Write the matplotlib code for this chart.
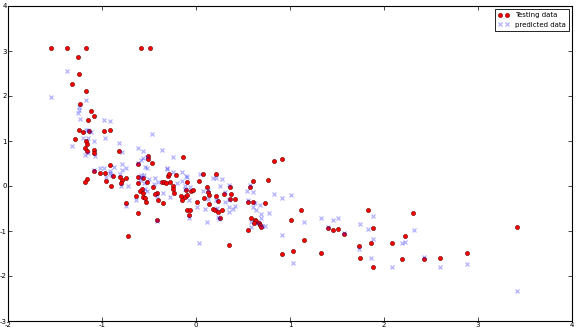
import matplotlib
matplotlib.use("Agg")
from matplotlib import pyplot as plt

plt.rcParams['axes.unicode_minus'] = False

# testing data (red dots)
test_x = [-1.54, -1.37, -1.17, -0.59, -0.49, -1.26, -1.24, -1.32, -1.17, -1.23,
          -1.12, -1.08, -1.15, -1.25, -1.20, -1.14, -0.98, -0.92, -1.29, -1.17,
          -1.16, -1.18, -1.08, -1.16, -1.09, -0.82, -0.51, -0.51, -0.14, -0.47,
          -0.91, -0.62, -1.08, -1.02, -0.97, -1.16, -1.18, -0.96, -0.88, -0.81,
          -0.79, -0.74, -0.80, -0.90, -0.62, -0.56, -0.62, -0.52, -0.57, -0.60,
          -0.56, -0.64, -0.56, -0.54, -0.53, -0.74, -0.62, -0.72, -0.46, -0.41,
          -0.44, -0.40, -0.35, -0.42, -0.30, -0.29, -0.21, -0.36, -0.34, -0.32,
          -0.28, -0.25, -0.24, -0.23, -0.10, -0.11, -0.05, -0.03, -0.16, -0.12,
          -0.10, -0.15, -0.10, -0.06, -0.07, 0.07, 0.21, 0.03, 0.12, 0.36,
          0.13, 0.14, 0.21, 0.30, 0.37, 0.09, 0.23, 0.36, 0.42, 0.01,
          0.14, 0.18, 0.20, 0.23, 0.28, 0.26, 0.35, 0.83, 0.92, 0.61,
          0.77, 0.57, 0.55, 0.61, 0.73, 0.58, 0.63, 0.64, 0.62, 0.67,
          0.68, 0.69, 0.55, 1.12, 1.01, 1.15, 1.40, 1.46, 1.51, 1.57,
          0.91, 1.03, 1.33, 1.83, 1.88, 1.86, 1.73, 1.74, 1.88, 2.31,
          2.22, 2.09, 2.19, 2.43, 2.60, 2.88, 3.42]
test_y = [3.06, 3.06, 3.06, 3.06, 3.06, 2.87, 2.50, 2.27, 2.12, 1.82,
          1.66, 1.56, 1.47, 1.24, 1.20, 1.22, 1.23, 1.25, 1.04, 1.00,
          0.93, 0.85, 0.81, 0.77, 0.73, 0.77, 0.67, 0.60, 0.64, 0.51,
          0.46, 0.49, 0.33, 0.30, 0.30, 0.16, 0.08, 0.11, 0.23, 0.19,
          0.13, 0.18, 0.06, -0.01, 0.21, 0.18, 0.07, 0.10, -0.07, -0.10,
          -0.15, -0.22, -0.24, -0.26, -0.36, -0.37, -0.61, -1.11, -0.03, -0.16,
          -0.18, -0.30, -0.37, -0.76, 0.22, 0.26, 0.25, 0.10, 0.09, 0.06,
          0.10, -0.01, -0.07, -0.15, 0.10, -0.09, -0.10, -0.08, -0.22, -0.24,
          -0.21, -0.31, -0.53, -0.53, -0.65, 0.27, 0.26, 0.12, -0.02, -0.03,
          -0.14, -0.21, -0.23, -0.17, -0.18, -0.27, -0.34, -0.29, -0.29, -0.36,
          -0.41, -0.51, -0.54, -0.57, -0.54, -0.70, -1.30, 0.56, 0.60, 0.12,
          0.13, -0.03, -0.36, -0.36, -0.38, -0.70, -0.76, -0.78, -0.82, -0.82,
          -0.87, -0.91, -0.97, -0.53, -0.76, -1.20, -0.93, -0.98, -0.95, -1.06,
          -1.50, -1.45, -1.49, -0.53, -0.94, -1.27, -1.34, -1.59, -1.80, -0.61,
          -1.12, -1.26, -1.62, -1.62, -1.60, -1.49, -0.90]

# predicted data (blue crosses)
pred_x = [-1.37, -1.54, -1.17, -1.24, -1.24, -1.26, -1.23, -0.98, -0.92, -1.17,
          -1.15, -1.12, -1.20, -1.15, -0.97, -0.47, -1.32, -1.08, -0.82, -0.62,
          -0.56, -0.36, -1.18, -1.15, -1.07, -0.79, -0.24, -0.59, -0.56, -0.52,
          -0.79, -0.62, -0.87, -1.02, -0.98, -0.74, -0.52, -0.31, -1.09, -0.91,
          -0.79, -0.54, -0.91, -0.90, -0.81, -0.96, -0.59, -0.55, -0.58, -0.50,
          -0.60, -0.55, -0.54, -0.52, -0.72, -0.80, -0.64, -0.74, -0.44, -0.40,
          -0.45, -0.35, -0.28, -0.41, -0.31, -0.24, -0.15, -0.11, -0.10, -0.15,
          -0.20, -0.06, -0.12, -0.12, -0.07, 0.01, -0.07, -0.41, 0.03, 0.04,
          0.18, 0.21, 0.28, 0.07, 0.13, 0.26, 0.35, 0.31, 0.13, 0.10,
          0.22, 0.31, 0.35, 0.39, 0.42, 0.21, 0.35, 0.35, 0.23, 0.24,
          0.12, 0.57, 0.54, 0.61, 0.83, 0.92, 1.01, 0.55, 0.63, 0.68,
          0.61, 0.64, 0.78, 0.69, 0.69, 0.66, 0.70, 0.73, 0.58, 0.58,
          1.15, 1.33, 1.46, 1.51, 0.91, 1.40, 1.57, 1.03, 1.74, 1.88,
          1.83, 1.88, 1.73, 1.86, 2.32, 2.19, 2.22, 2.09, 2.43, 2.60,
          2.88, 3.42]
pred_y = [2.56, 1.98, 1.91, 1.75, 1.69, 1.63, 1.50, 1.47, 1.44, 1.24,
          1.24, 1.20, 1.06, 1.06, 1.06, 1.15, 0.90, 1.00, 0.95, 0.84,
          0.78, 0.81, 0.70, 0.74, 0.67, 0.76, 0.64, 0.58, 0.62, 0.64,
          0.48, 0.52, 0.43, 0.41, 0.41, 0.40, 0.40, 0.39, 0.36, 0.34,
          0.36, 0.42, 0.28, 0.25, 0.26, 0.20, 0.24, 0.24, 0.21, 0.16,
          0.13, 0.07, -0.07, -0.10, 0.01, 0.01, -0.32, -0.45, 0.17, 0.08,
          0.05, -0.16, -0.25, -0.22, 0.37, 0.32, 0.32, 0.23, 0.21, 0.11,
          0.06, -0.03, -0.06, 0.01, -0.30, -0.46, -0.70, -0.78, -1.27, 0.27,
          0.17, 0.17, 0.15, -0.10, -0.09, 0.00, 0.02, -0.13, -0.29, -0.50,
          -0.48, -0.36, -0.47, -0.52, -0.44, -0.31, -0.31, -0.58, -0.69, -0.73,
          -0.80, 0.02, -0.11, -0.14, -0.17, -0.27, -0.21, -0.31, -0.38, -0.43,
          -0.47, -0.54, -0.59, -0.63, -0.72, -0.82, -0.89, -0.89, -0.92, -0.81,
          -0.80, -0.72, -0.76, -0.70, -1.09, -0.90, -1.05, -1.70, -0.85, -0.67,
          -0.96, -1.17, -1.39, -1.61, -0.97, -1.27, -1.25, -1.79, -1.57, -1.81,
          -1.74, -2.33]

fig = plt.figure(figsize=(5.76, 3.29), dpi=100)
ax = fig.add_axes([8 / 576, 8 / 329, 564 / 576, 315 / 329])

ax.plot(test_x, test_y, 'o', color='red', markersize=3.0,
        markeredgecolor='#660000', markeredgewidth=0.4, label='Testing data')
ax.plot(pred_x, pred_y, 'x', color='blue', alpha=0.3, markersize=3,
        markeredgewidth=0.9, label='predicted data')

ax.set_xlim(-2, 4)
ax.set_ylim(-3, 4)
ax.tick_params(direction='in', top=True, right=True, length=3, width=0.5,
               labelsize=5, pad=1)
for s in ax.spines.values():
    s.set_linewidth(0.8)

leg = ax.legend(loc='upper right', numpoints=2, fontsize=5, fancybox=False,
                borderaxespad=0.5, handlelength=1.6, framealpha=1)
leg.get_frame().set_edgecolor('black')
leg.get_frame().set_linewidth(0.6)

plt.savefig("out.png", dpi=100)
